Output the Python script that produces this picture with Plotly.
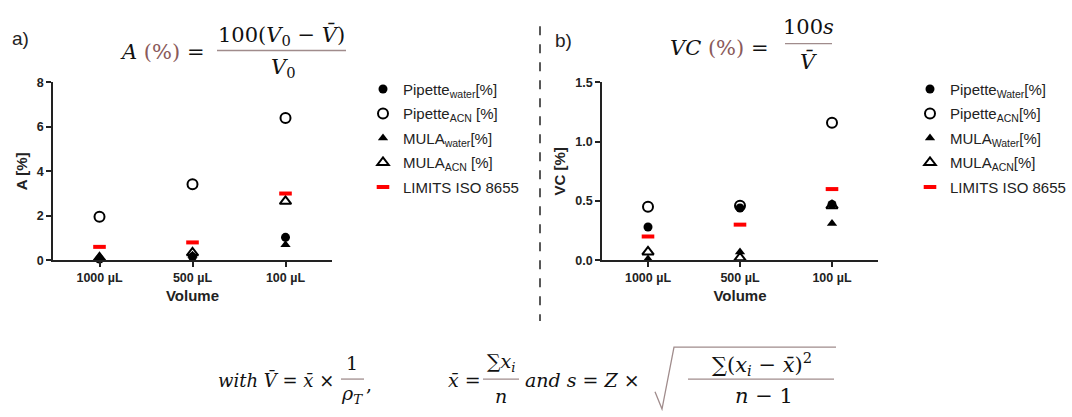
import plotly.graph_objects as go

W, H = 1072, 417

categories = ["1000 µL", "500 µL", "100 µL"]

A_pipette_water = [0.05, 0.15, 1.03]
A_pipette_acn = [1.95, 3.42, 6.40]
A_mula_water = [0.08, 0.22, 0.70]
A_mula_acn = [0.10, 0.33, 2.65]
A_limits = [0.6, 0.8, 3.0]

VC_pipette_water = [0.28, 0.44, 0.47]
VC_pipette_acn = [0.45, 0.46, 1.16]
VC_mula_water = [0.01, 0.07, 0.31]
VC_mula_acn = [0.07, 0.02, 0.46]
VC_limits = [0.2, 0.3, 0.6]

labels_a = ["Pipette<sub>water</sub>[%]", "Pipette<sub>ACN</sub> [%]",
            "MULA<sub>water</sub>[%]", "MULA<sub>ACN</sub> [%]", "LIMITS ISO 8655"]
labels_b = ["Pipette<sub>Water</sub>[%]", "Pipette<sub>ACN</sub>[%]",
            "MULA<sub>Water</sub>[%]", "MULA<sub>ACN</sub>[%]", "LIMITS ISO 8655"]


def px(x):
    return x / W


def py(y):
    return 1 - y / H


styles = [
    dict(symbol="circle", size=9, color="black", line=dict(width=0)),
    dict(symbol="circle-open", size=10, color="black", line=dict(width=2, color="black")),
    dict(symbol="triangle-up", size=9, color="black", line=dict(width=0)),
    dict(symbol="triangle-up-open", size=10, color="black", line=dict(width=2, color="black")),
    dict(symbol="line-ew", size=9, color="#ff0000", line=dict(width=4, color="#ff0000")),
]

fig = go.Figure()

series_a = [A_pipette_water, A_pipette_acn, A_mula_water, A_mula_acn, A_limits]
series_b = [VC_pipette_water, VC_pipette_acn, VC_mula_water, VC_mula_acn, VC_limits]

for i in range(5):
    fig.add_trace(go.Scatter(
        x=categories, y=series_a[i], mode="markers", marker=styles[i],
        name=labels_a[i], legend="legend", legendgroup="a%d" % i, legendrank=i + 1,
        xaxis="x", yaxis="y", cliponaxis=False))
for i in range(5):
    fig.add_trace(go.Scatter(
        x=categories, y=series_b[i], mode="markers", marker=styles[i],
        name=labels_b[i], legend="legend2", legendgroup="b%d" % i, legendrank=i + 1,
        xaxis="x2", yaxis="y2", cliponaxis=False))

axis_font = dict(family="Liberation Sans", size=12.5, color="#222", weight="bold")
title_font = dict(family="Liberation Sans", size=15, color="#222", weight="bold")

common_x = dict(type="category", categoryorder="array", categoryarray=categories,
                range=[-0.5, 2.5], showline=True, linewidth=1.5, linecolor="#222",
                ticks="outside", ticklen=5, tickwidth=1.5, tickcolor="#222",
                tickfont=axis_font, showgrid=False, zeroline=False,
                title=dict(text="Volume", font=title_font, standoff=7))
common_y = dict(showline=True, linewidth=1.5, linecolor="#222",
                ticks="outside", ticklen=5, tickwidth=1.5, tickcolor="#222",
                tickfont=axis_font, showgrid=False, zeroline=False)

ydom = [py(262), py(78)]
legend_common = dict(xanchor="left", yanchor="top", traceorder="grouped",
                     tracegroupgap=2, itemwidth=30, bgcolor="rgba(0,0,0,0)",
                     font=dict(family="Liberation Sans", size=15, color="#222"))

fig.update_layout(
    width=W, height=H, margin=dict(l=0, r=0, t=0, b=0),
    paper_bgcolor="white", plot_bgcolor="white", showlegend=True,
    xaxis=dict(domain=[px(53), px(332)], anchor="y", **common_x),
    yaxis=dict(domain=ydom, anchor="x", range=[0, 8], tickvals=[0, 2, 4, 6, 8],
               title=dict(text="A [%]", font=title_font, standoff=6), **common_y),
    xaxis2=dict(domain=[px(602), px(878)], anchor="y2", **common_x),
    yaxis2=dict(domain=ydom, anchor="x2", range=[0, 1.5], tickvals=[0, 0.5, 1.0, 1.5],
                tickformat=".1f",
                title=dict(text="VC [%]", font=title_font, standoff=6), **common_y),
    legend=dict(x=px(363), y=py(68), **legend_common),
    legend2=dict(x=px(910), y=py(68), **legend_common),
)

# ---- text / formulas ----
MATH = "DejaVu Serif"
BROWN = "#8a5a5a"
BAR = "#a08c8c"


def ann(text, x, y, size=20, xanchor="center", family=MATH, color="#111"):
    fig.add_annotation(text=text, x=px(x), y=py(y), xref="paper", yref="paper",
                       xanchor=xanchor, yanchor="middle", showarrow=False,
                       font=dict(family=family, size=size, color=color))


def hline(x0, x1, y, color=BAR, width=1.3):
    fig.add_shape(type="line", xref="paper", yref="paper",
                  x0=px(x0), x1=px(x1), y0=py(y), y1=py(y),
                  line=dict(color=color, width=width))


pct = '<span style="color:%s">(%%)</span>' % BROWN
Vbar = "<i>V\u0304</i>"
xbar = "<i>x\u0304</i>"

# a)
ann("a)", 10, 33, size=19, xanchor="left", family="Liberation Sans", color="#222")
ann("<i>A</i> " + pct + " =", 206, 47, size=21, xanchor="right")
ann("100(<i>V</i><sub>0</sub> − " + Vbar + ")", 281, 29, size=21)
hline(217, 346, 45)
ann("<i>V</i><sub>0</sub>", 283, 63, size=21)

# b)
ann("b)", 553, 35, size=19, xanchor="left", family="Liberation Sans", color="#222")
ann("<i>VC</i> " + pct + " =", 771, 42, size=21, xanchor="right")
ann("100<i>s</i>", 808, 21, size=21)
hline(785, 832, 38)
ann(Vbar, 808, 56, size=21)

# divider
fig.add_shape(type="line", xref="paper", yref="paper", x0=px(540), x1=px(540),
              y0=py(20), y1=py(325), line=dict(color="#222", width=1.5, dash="dash"))

# bottom formula
ann("<i>with</i> " + Vbar + " = " + xbar + " ×", 336, 386, size=18, xanchor="right")
ann("1", 352, 368, size=19)
hline(341, 364, 385)
ann("<i>ρ</i><sub><i>T</i></sub>", 352, 401, size=19)
ann(",", 369, 390, size=19)
ann(xbar + " =", 446, 386, size=19, xanchor="left")
ann("∑<i>x</i><sub><i>i</i></sub>", 501, 368, size=19)
hline(483, 519, 385)
ann("<i>n</i>", 501, 402, size=19)
ann("<i>and s</i> = <i>Z</i> ×", 523, 386, size=19, xanchor="left")
# square root sign
fig.add_shape(type="path", xref="paper", yref="paper",
              path="M %f,%f L %f,%f L %f,%f L %f,%f" % (
                  px(655), py(398), px(662), py(416), px(674), py(352), px(836), py(352)),
              line=dict(color=BAR, width=1.3))
ann("∑(<i>x</i><sub><i>i</i></sub> − " + xbar + ")<sup>2</sup>", 762, 369, size=21)
hline(688, 834, 385)
ann("<i>n</i> − 1", 764, 402, size=21)

fig.write_html("out.html", config={"displayModeBar": False},
               post_script="document.body.style.margin='0';document.body.style.padding='0';")
